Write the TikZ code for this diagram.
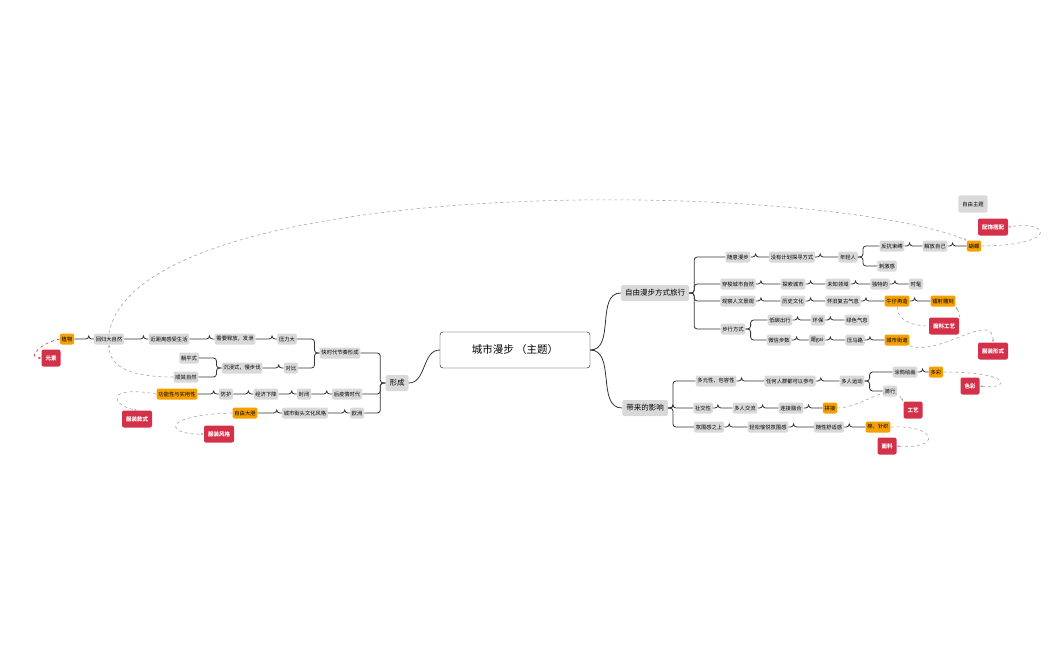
\documentclass[tikz,border=0pt]{standalone}
\usepackage{fontspec}
\setmainfont{Noto Sans CJK SC}
\usetikzlibrary{positioning,arrows.meta}
\definecolor{boxgray}{HTML}{D9D9D9}
\definecolor{boxorange}{HTML}{F5A000}
\definecolor{boxred}{HTML}{D3304A}
\tikzset{
  topic/.style={fill=boxgray, rounded corners=2pt, inner sep=1.8pt, minimum height=11pt, font=\fontsize{5.3}{6}\selectfont},
  hot/.style={topic, fill=boxorange},
  tag/.style={topic, fill=boxred, text=white, minimum height=17pt, inner sep=4pt, font=\fontsize{5.5}{6}\selectfont\bfseries},
  main/.style={topic, minimum height=16pt, inner sep=4pt, font=\fontsize{7.5}{8}\selectfont},
  link/.style={draw=black!80, line width=0.8pt, rounded corners=3pt},
  hint/.style={draw=gray!70, dashed, line width=0.6pt, -{Stealth[length=3pt]}},
}
\newcommand{\rlink}[2]{\draw[link] (#1.east) -- ++(5,0) |- (#2.west);}
\newcommand{\llink}[2]{\draw[link] (#1.west) -- ++(-5,0) |- (#2.east);}
\begin{document}
\begin{tikzpicture}[x=1pt, y=-1pt]
  \useasboundingbox (0,0) rectangle (1050,650);
  % root and main branches
  \node[draw=black, fill=white, rounded corners=3pt, minimum width=150pt, minimum height=36pt, font=\fontsize{10.5}{12}\selectfont] (root) at (515,350) {城市漫步 （主题）};
  \node[main] (free) at (655,293) {自由漫步方式旅行};
  \node[main] (effect) at (645,408) {带来的影响};
  \node[main] (form) at (397,383) {形成};
  \draw[link] (root.east) to[out=0, in=180] (free.west);
  \draw[link] (root.east) to[out=0, in=180] (effect.west);
  \draw[link] (root.west) to[out=180, in=0] (form.east);

  % 自由漫步方式旅行
  \node[topic] (walk) at (738,257) {随意漫步};
  \node[topic] (noplan) at (792,257) {没有计划探寻方式};
  \node[topic] (young) at (848,257) {年轻人};
  \node[topic] (resist) at (892,246) {反抗束缚};
  \node[topic] (release) at (935,246) {解放自己};
  \node[hot] (butterfly) at (974,246) {蝴蝶};
  \node[topic] (thrill) at (887,266) {刺激感};
  \node[topic] (cross) at (738,284) {穿梭城市自然};
  \node[topic] (explore) at (793,284) {探索城市};
  \node[topic] (unknown) at (838,284) {未知领域};
  \node[topic] (unique) at (880,284) {独特的};
  \node[topic] (trendy) at (916,284) {时髦};
  \node[topic] (observe) at (738,301) {观察人文景观};
  \node[topic] (history) at (793,301) {历史文化};
  \node[topic] (retro) at (843,301) {怀旧复古气息};
  \node[hot] (denim) at (897,301) {牛仔再造};
  \node[hot] (laser) at (943,301) {镭射雕刻};
  \node[topic] (step) at (733,329) {步行方式};
  \node[topic] (lowc) at (780,320) {低碳出行};
  \node[topic] (eco) at (818,320) {环保};
  \node[topic] (green) at (857,320) {绿色气息};
  \node[topic] (wechat) at (779,340) {微信步数};
  \node[topic] (gai) at (817,340) {遛gai};
  \node[topic] (road) at (855,340) {压马路};
  \node[hot] (street) at (897,340) {城市街道};
  \node[tag] (acc) at (993,227) {配饰搭配};
  \node[tag] (fabcraft) at (944,326) {面料工艺};
  \node[tag] (dressform) at (993,351) {服装形式};
  \node[topic, minimum height=17pt, inner sep=4pt] (theme) at (973,204) {自由主题};
  \foreach \p/\c in {free/walk, free/cross, free/observe, free/step, walk/noplan, noplan/young,
      young/resist, young/thrill, resist/release, release/butterfly, cross/explore, explore/unknown,
      unknown/unique, unique/trendy, observe/history, history/retro, retro/denim, denim/laser,
      step/lowc, step/wechat, lowc/eco, eco/green, wechat/gai, gai/road, road/street}
    {\rlink{\p}{\c}}

  % 带来的影响
  \node[topic] (multi) at (716,381) {多元性，包容性};
  \node[topic] (anyone) at (790,381) {任何人群都可以参与};
  \node[topic] (sport) at (852,381) {多人运动};
  \node[topic] (graffiti) at (905,372) {涂鸦绘画};
  \node[topic] (ride) at (890,391) {骑行};
  \node[hot] (colorful) at (936,372) {多彩};
  \node[tag] (color) at (970,386) {色彩};
  \node[topic] (social) at (703,408) {社交性};
  \node[topic] (talk) at (745,408) {多人交流};
  \node[topic] (merge) at (791,408) {连接融合};
  \node[hot] (patch) at (830,408) {拼接};
  \node[tag] (craft) at (913,410) {工艺};
  \node[topic] (mood) at (709,427) {氛围感之上};
  \node[topic] (relax) at (768,427) {轻松愉悦氛围感};
  \node[topic] (comfy) at (829,427) {随性舒适感};
  \node[hot] (knit) at (878,427) {棉，针织};
  \node[tag] (fabric) at (887,446) {面料};
  \foreach \p/\c in {effect/multi, effect/social, effect/mood, multi/anyone, anyone/sport,
      sport/graffiti, sport/ride, graffiti/colorful, social/talk, talk/merge, merge/patch,
      mood/relax, relax/comfy, comfy/knit}
    {\rlink{\p}{\c}}

  % 形成
  \node[topic] (fast) at (340,353) {快时代节奏形成};
  \node[topic] (stress) at (287,339) {压力大};
  \node[topic] (vent) at (235,339) {需要释放，发泄};
  \node[topic] (close) at (169,339) {近距离感受生活};
  \node[topic] (nature) at (109,339) {回归大自然};
  \node[hot] (plant) at (67,339) {植物};
  \node[tag] (element) at (51,358) {元素};
  \node[topic] (contrast) at (291,368) {对比};
  \node[topic] (slow) at (242,368) {沉浸式，慢步伐};
  \node[topic] (flat) at (189,358) {躺平式};
  \node[topic] (let) at (186,377) {顺其自然};
  \node[topic] (post) at (347,394) {后疫情时代};
  \node[topic] (closed) at (304,394) {封闭};
  \node[topic] (economy) at (266,394) {经济下降};
  \node[topic] (protect) at (226,394) {防护};
  \node[hot] (func) at (177,394) {功能性与实用性};
  \node[tag] (dressstyle) at (137,419) {服装款式};
  \node[topic] (europe) at (357,413) {欧洲};
  \node[topic] (culture) at (305,413) {城市街头文化风格};
  \node[hot] (bold) at (245,413) {自由大胆};
  \node[tag] (style) at (219,434) {服装风格};
  \foreach \p/\c in {form/fast, form/post, form/europe, fast/stress, fast/contrast, stress/vent,
      vent/close, close/nature, nature/plant, contrast/slow, slow/flat, slow/let, post/closed,
      closed/economy, economy/protect, protect/func, europe/culture, culture/bold}
    {\llink{\p}{\c}}

  % dashed relations
  \draw[hint, draw=boxred] (plant.west) to[out=190, in=180, looseness=1.6] (element.west);
  \draw[hint] (let.west) to[out=180, in=-90] (nature.south);
  \draw[hint] (nature.north) .. controls (140,170) and (820,180) .. (butterfly.north west);
  \draw[hint] (butterfly.east) .. controls (1060,245) and (1050,220) .. (acc.east);
  \draw[hint, -] (denim.south) to[out=-90, in=180] (fabcraft.west);
  \draw[hint] (fabcraft.north east) to[out=60, in=-60] (laser.south east);
  \draw[hint] (street.south east) to[out=-20, in=90] (dressform.north);
  \draw[hint] (colorful.east) .. controls (1015,372) and (1010,390) .. (color.east);
  \draw[hint] (patch.east) to[out=0, in=120] (craft.north west);
  \draw[hint] (knit.east) .. controls (940,425) and (940,450) .. (fabric.east);
  \draw[hint] (func.west) .. controls (105,385) and (110,405) .. (dressstyle.north);
  \draw[hint] (bold.west) .. controls (160,415) and (165,435) .. (style.west);
\end{tikzpicture}
\end{document}
